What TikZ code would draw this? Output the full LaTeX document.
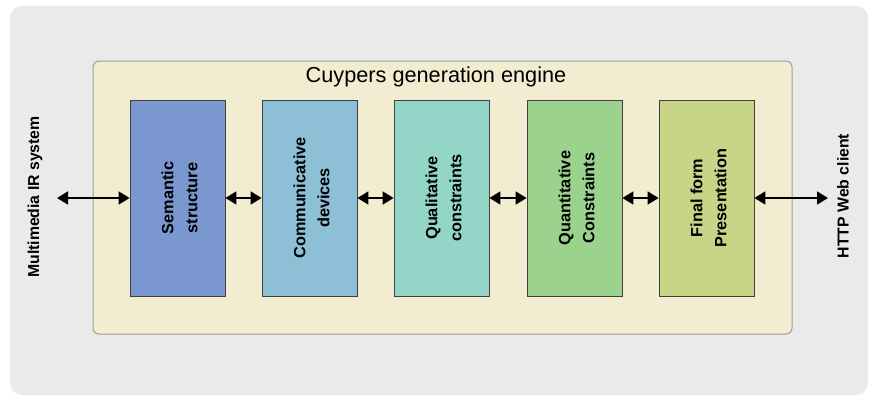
\documentclass[tikz,border=0pt]{standalone}
\usepackage{fontspec}
\setmainfont{Liberation Sans}
\usetikzlibrary{arrows.meta}
\definecolor{bggrey}{HTML}{EAEAEA}
\definecolor{engfill}{HTML}{F2EDD0}
\definecolor{engline}{HTML}{A09E8E}
\definecolor{cA}{HTML}{7B97CF}
\definecolor{cB}{HTML}{8DBFD6}
\definecolor{cC}{HTML}{93D6C8}
\definecolor{cD}{HTML}{9AD28E}
\definecolor{cE}{HTML}{C8D486}
\tikzset{
  stage/.style={draw=black!75, line width=0.8pt, minimum width=95pt, minimum height=196pt, inner sep=0pt},
  stagetext/.style={font=\fontsize{16.3}{24}\selectfont\bfseries, rotate=90, align=center},
  sidetext/.style={font=\fontsize{15.8}{18}\selectfont\bfseries, rotate=90},
  dbl/.style={line width=1.8pt, {Triangle[length=11pt,width=13pt]}-{Triangle[length=11pt,width=13pt]}}
}
\begin{document}
\begin{tikzpicture}[x=1pt,y=-1pt]
\useasboundingbox (0,0) rectangle (869,396);
\fill[white] (0,0) rectangle (869,396);
\fill[bggrey, rounded corners=12pt] (10,6) rectangle (868,395);
\draw[engline, fill=engfill, line width=1pt, rounded corners=6pt] (93,61) rectangle (792,334);
\node[font=\fontsize{21.7}{24}\selectfont] (title) at (436,77) {Cuypers generation engine};
\node[stage, fill=cA] (s1) at (177.5,198) {};
\node[stage, fill=cB] (s2) at (309.5,198) {};
\node[stage, fill=cC] (s3) at (441.5,198) {};
\node[stage, fill=cD] (s4) at (574.5,198) {};
\node[stage, fill=cE] (s5) at (706.5,198) {};
\node[stagetext] at ([xshift=2pt]s1) {Semantic\\structure};
\node[stagetext] at ([xshift=2pt]s2) {Communicative\\devices};
\node[stagetext] at ([xshift=2pt]s3) {Qualitative\\constraints};
\node[stagetext] at ([xshift=2pt]s4) {Quantitative\\Constraints};
\node[stagetext] at ([xshift=2pt]s5) {Final form\\Presentation};
\node[sidetext] (left) at (35,197) {Multimedia IR system};
\node[sidetext] (right) at (843,196) {HTTP Web client};
\coordinate (lend) at (57,198);
\coordinate (rend) at (828,198);
\draw[dbl] (lend) -- (s1.west);
\draw[dbl] (s1.east) -- (s2.west);
\draw[dbl] (s2.east) -- (s3.west);
\draw[dbl] (s3.east) -- (s4.west);
\draw[dbl] (s4.east) -- (s5.west);
\draw[dbl] (s5.east) -- (rend);
\end{tikzpicture}
\end{document}
